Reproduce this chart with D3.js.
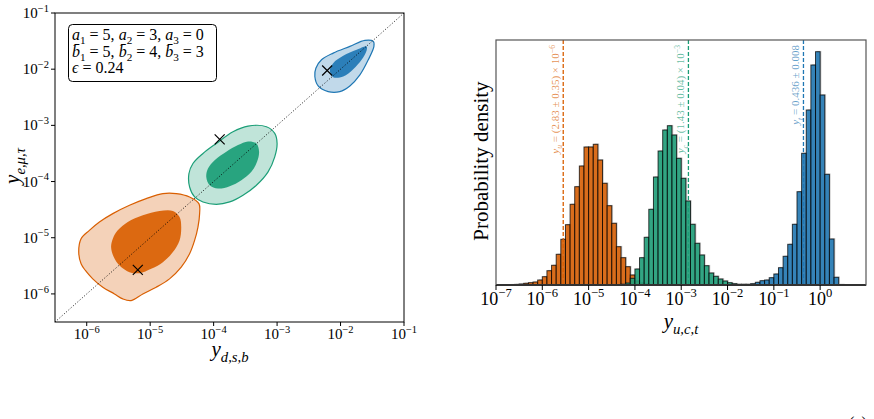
<!DOCTYPE html>
<html>
<head>
<meta charset="utf-8">
<script src="https://cdn.jsdelivr.net/npm/d3@7"></script>
<style>
  body { margin: 0; background: #fff; }
  svg { font-family: "Liberation Serif", "DejaVu Serif", serif; }
</style>
</head>
<body>
<svg id="chart" width="874" height="419"></svg>
<script>
// ---- data (log10 values) ----
var colU = "#d95f02", colC = "#1b9e77", colT = "#1f77b4";

// 95% and 68% contours, [log10 y_d, log10 y_e]
var upOuter = [[-6.126,-5.256],[-6.089,-5.018],[-5.958,-4.869],[-5.8,-4.72],[-5.589,-4.571],[-5.326,-4.423],
  [-5.063,-4.304],[-4.8,-4.214],[-4.589,-4.214],[-4.379,-4.274],[-4.232,-4.393],[-4.221,-4.571],[-4.247,-4.81],
  [-4.3,-5.048],[-4.379,-5.286],[-4.511,-5.524],[-4.695,-5.732],[-4.905,-5.881],[-5.116,-6.0],[-5.3,-6.119],
  [-5.432,-6.089],[-5.563,-6.0],[-5.747,-5.881],[-5.905,-5.732],[-6.021,-5.583],[-6.089,-5.464]];
var upInner = [[-5.616,-5.167],[-5.589,-5.018],[-5.511,-4.869],[-5.353,-4.72],[-5.116,-4.601],[-4.853,-4.524],
  [-4.642,-4.524],[-4.537,-4.631],[-4.511,-4.81],[-4.537,-5.048],[-4.642,-5.256],[-4.8,-5.435],[-4.984,-5.554],
  [-5.168,-5.631],[-5.326,-5.613],[-5.484,-5.494],[-5.574,-5.345]];
var chOuter = [[-3.695,-3.113],[-3.458,-3.012],[-3.168,-3.024],[-3.037,-3.143],[-3.0,-3.321],[-3.037,-3.56],
  [-3.142,-3.827],[-3.326,-4.065],[-3.537,-4.244],[-3.747,-4.363],[-3.958,-4.405],[-4.168,-4.363],[-4.3,-4.274],
  [-4.379,-4.095],[-4.389,-3.857],[-4.326,-3.679],[-4.168,-3.5],[-3.958,-3.321]];
var chInner = [[-4.116,-3.917],[-4.089,-3.768],[-3.984,-3.619],[-3.8,-3.47],[-3.616,-3.351],[-3.458,-3.286],
  [-3.326,-3.321],[-3.284,-3.47],[-3.316,-3.649],[-3.405,-3.827],[-3.563,-3.976],[-3.747,-4.083],[-3.932,-4.125],
  [-4.063,-4.065]];
var tpOuter = [[-1.484,-1.506],[-1.616,-1.488],[-1.853,-1.595],[-2.116,-1.714],[-2.3,-1.833],[-2.389,-1.982],
  [-2.405,-2.131],[-2.353,-2.298],[-2.195,-2.399],[-2.011,-2.399],[-1.853,-2.298],[-1.695,-2.101],[-1.563,-1.833],
  [-1.474,-1.595]];
var tpInner = [[-1.589,-1.595],[-1.747,-1.655],[-1.958,-1.762],[-2.116,-1.893],[-2.168,-2.024],[-2.116,-2.143],
  [-1.958,-2.131],[-1.8,-2.0],[-1.668,-1.833],[-1.589,-1.667]];
// true values (crosses)
var crosses = [[-5.195,-5.571],[-3.905,-3.25],[-2.211,-2.024]];

// histograms: left bin edge (log10 y) and density
var binWidth = 0.1;
var uEdges = [-6.7,-6.6,-6.5,-6.4,-6.3,-6.2,-6.1,-6.0,-5.9,-5.8,-5.7,-5.6,-5.5,-5.4,-5.3,-5.2,-5.1,-5.0,-4.9,-4.8,
  -4.7,-4.6,-4.5,-4.4,-4.3,-4.2,-4.1,-4.0,-3.9,-3.8,-3.7];
var uDens = [0.003,0.006,0.010,0.017,0.023,0.030,0.050,0.083,0.143,0.197,0.307,0.457,0.603,0.807,0.983,1.19,1.38,
  1.38,1.407,1.25,1.017,0.793,0.617,0.383,0.273,0.183,0.10,0.04,0.02,0.01,0.004];
var cEdges = [-4.3,-4.2,-4.1,-4.0,-3.9,-3.8,-3.7,-3.6,-3.5,-3.4,-3.3,-3.2,-3.1,-3.0,-2.9,-2.8,-2.7,-2.6,-2.5,-2.4,
  -2.3,-2.2,-2.1,-2.0,-1.9,-1.8,-1.7];
var cDens = [0.008,0.02,0.067,0.16,0.273,0.477,0.757,1.08,1.34,1.55,1.593,1.50,1.267,1.067,0.84,0.607,0.417,0.30,
  0.193,0.12,0.087,0.06,0.04,0.023,0.013,0.007,0.003];
var tEdges = [-1.7,-1.6,-1.5,-1.4,-1.3,-1.2,-1.1,-1.0,-0.9,-0.8,-0.7,-0.6,-0.5,-0.4,-0.3,-0.2,-0.1,0.0,0.1,0.2,0.3,0.4];
var tDens = [0.007,0.007,0.013,0.027,0.043,0.05,0.073,0.11,0.173,0.287,0.407,0.607,0.933,1.317,1.75,2.20,2.333,
  1.90,1.107,0.46,0.077,0.005];

var fitVals = [2.83e-6, 1.43e-3, 0.436];
var fitLabels = [
  [["y","i"],["u","_i"],[" = (2.83 ± 0.35) × 10",""],["−6","^"]],
  [["y","i"],["c","_i"],[" = (1.43 ± 0.04) × 10",""],["−3","^"]],
  [["y","i"],["t","_i"],[" = 0.436 ± 0.008",""]]
];
var leftTicks = [-6, -5, -4, -3, -2, -1];
var rightTicks = [-7, -6, -5, -4, -3, -2, -1, 0];

// ---- helpers ----
function mathText(sel, parts, size) {
  var shift = 0;
  parts.forEach(function(p) {
    var k = p[1], target = 0, fs = size;
    if (k.indexOf("_") >= 0) { target = size * 0.28; fs = size * 0.7; }
    if (k.indexOf("^") >= 0) { target = -size * 0.42; fs = size * 0.7; }
    var t = sel.append("tspan").text(p[0]).attr("dy", target - shift).attr("font-size", fs);
    if (k.indexOf("i") >= 0) t.attr("font-style", "italic");
    shift = target;
  });
  return sel;
}
function powLabel(sel, e, size) {
  mathText(sel, [["10", ""], [(e < 0 ? "−" : "") + Math.abs(e), "^"]], size);
}

var svg = d3.select("#chart");
svg.append("rect").attr("width", 874).attr("height", 419).attr("fill", "#fff");

// ================= left panel =================
var xL = d3.scaleLog().domain([Math.pow(10, -6.5), 1e-1]).range([55, 404]);
var yL = d3.scaleLog().domain([Math.pow(10, -6.5), 1e-1]).range([322, 13]);
var gL = svg.append("g");

var blob = d3.line()
  .x(function(d) { return xL(Math.pow(10, d[0])); })
  .y(function(d) { return yL(Math.pow(10, d[1])); })
  .curve(d3.curveCatmullRomClosed);

[[upOuter, upInner, colU], [chOuter, chInner, colC], [tpOuter, tpInner, colT]].forEach(function(s) {
  gL.append("path").attr("d", blob(s[0])).attr("fill", s[2]).attr("fill-opacity", 0.28)
    .attr("stroke", s[2]).attr("stroke-width", 1.2);
  gL.append("path").attr("d", blob(s[1])).attr("fill", s[2]).attr("fill-opacity", 0.92);
});

// y = x diagonal
gL.append("line")
  .attr("x1", xL(Math.pow(10, -6.5))).attr("y1", yL(Math.pow(10, -6.5)))
  .attr("x2", xL(1e-1)).attr("y2", yL(1e-1))
  .attr("stroke", "#000").attr("stroke-width", 0.9).attr("stroke-dasharray", "1,2");

crosses.forEach(function(c) {
  var cx = xL(Math.pow(10, c[0])), cy = yL(Math.pow(10, c[1])), r = 5;
  gL.append("path").attr("d", "M" + (cx - r) + "," + (cy - r) + "L" + (cx + r) + "," + (cy + r) +
      "M" + (cx - r) + "," + (cy + r) + "L" + (cx + r) + "," + (cy - r))
    .attr("stroke", "#000").attr("stroke-width", 1.2);
});

gL.append("rect").attr("x", 55).attr("y", 13).attr("width", 349).attr("height", 309)
  .attr("fill", "none").attr("stroke", "#000").attr("stroke-width", 1);

leftTicks.forEach(function(e) {
  var x = xL(Math.pow(10, e)), y = yL(Math.pow(10, e));
  gL.append("line").attr("x1", x).attr("x2", x).attr("y1", 322).attr("y2", 326).attr("stroke", "#000");
  gL.append("line").attr("x1", 55).attr("x2", 51).attr("y1", y).attr("y2", y).attr("stroke", "#000");
  powLabel(gL.append("text").attr("x", x).attr("y", 339).attr("text-anchor", "middle"), e, 15);
  powLabel(gL.append("text").attr("x", 49).attr("y", y + 5).attr("text-anchor", "end"), e, 15);
});

mathText(gL.append("text").attr("x", 230).attr("y", 356).attr("text-anchor", "middle"),
  [["y", "i"], ["d,s,b", "_i"]], 21);
mathText(gL.append("text").attr("transform", "translate(19,166) rotate(-90)").attr("text-anchor", "middle"),
  [["y", "i"], ["e,μ,τ", "_i"]], 21);

// parameter box
gL.append("rect").attr("x", 68.5).attr("y", 24.5).attr("width", 148).attr("height", 57).attr("rx", 4)
  .attr("fill", "#fff").attr("stroke", "#000").attr("stroke-width", 1);
var boxLines = [
  [["a", "i"], ["1", "_"], [" = 5, ", ""], ["a", "i"], ["2", "_"], [" = 3, ", ""], ["a", "i"], ["3", "_"], [" = 0", ""]],
  [["b\u0304", "i"], ["1", "_"], [" = 5, ", ""], ["b\u0304", "i"], ["2", "_"], [" = 4, ", ""], ["b\u0304", "i"], ["3", "_"], [" = 3", ""]],
  [["\u03f5", "i"], [" = 0.24", ""]]
];
boxLines.forEach(function(l, i) {
  mathText(gL.append("text").attr("x", 72).attr("y", 40 + i * 16.7), l, 16);
});

// ================= right panel =================
var xR = d3.scaleLog().domain([1e-7, Math.pow(10, 0.99)]).range([496, 866]);
var yR = d3.scaleLinear().domain([0, 2.45]).range([285, 40]);
var gR = svg.append("g");

[[uEdges, uDens, colU], [cEdges, cDens, colC], [tEdges, tDens, colT]].forEach(function(s) {
  var bars = s[0].map(function(e, i) { return { lo: e, hi: e + binWidth, v: s[1][i] }; });
  var g = gR.append("g");
  g.selectAll(".sh").data(bars).enter().append("rect")
    .attr("x", function(d) { return xR(Math.pow(10, d.lo)) + 1.3; })
    .attr("y", function(d) { return yR(d.v) - 0.8; })
    .attr("width", function(d) { return xR(Math.pow(10, d.hi)) - xR(Math.pow(10, d.lo)); })
    .attr("height", function(d) { return yR(0) - yR(d.v) + 0.8; })
    .attr("fill", "#999").attr("fill-opacity", 0.45);
  g.selectAll(".bar").data(bars).enter().append("rect")
    .attr("x", function(d) { return xR(Math.pow(10, d.lo)); })
    .attr("y", function(d) { return yR(d.v); })
    .attr("width", function(d) { return xR(Math.pow(10, d.hi)) - xR(Math.pow(10, d.lo)); })
    .attr("height", function(d) { return yR(0) - yR(d.v); })
    .attr("fill", s[2]).attr("fill-opacity", 0.88)
    .attr("stroke", "#000").attr("stroke-opacity", 0.75).attr("stroke-width", 1);
});

// baseline formed by empty bins
gR.append("line").attr("x1", 496).attr("x2", 866).attr("y1", yR(0)).attr("y2", yR(0))
  .attr("stroke", "#000").attr("stroke-width", 2.2);

var cols = [colU, colC, colT];
fitVals.forEach(function(v, i) {
  var x = xR(v);
  gR.append("line").attr("x1", x).attr("x2", x).attr("y1", 40).attr("y2", 285)
    .attr("stroke", cols[i]).attr("stroke-width", 1.3).attr("stroke-dasharray", "4,2");
  mathText(gR.append("text").attr("transform", "translate(" + (x - 4) + ",45) rotate(-90)")
      .attr("text-anchor", "end").attr("fill", cols[i]).attr("fill-opacity", 0.7),
    fitLabels[i], 11);
});

gR.append("rect").attr("x", 496).attr("y", 40).attr("width", 370).attr("height", 245)
  .attr("fill", "none").attr("stroke", "#555").attr("stroke-width", 1.2);

rightTicks.forEach(function(e) {
  var x = xR(Math.pow(10, e));
  gR.append("line").attr("x1", x).attr("x2", x).attr("y1", 285).attr("y2", 290).attr("stroke", "#000");
  powLabel(gR.append("text").attr("x", x).attr("y", 305).attr("text-anchor", "middle"), e, 18);
});

mathText(gR.append("text").attr("x", 681).attr("y", 328).attr("text-anchor", "middle"),
  [["y", "i"], ["u,c,t", "_i"]], 21);
gR.append("text").attr("transform", "translate(488,161) rotate(-90)").attr("text-anchor", "middle")
  .attr("font-size", 21).text("Probability density");

svg.append("text").attr("x", 858).attr("y", 428).attr("text-anchor", "middle").attr("font-size", 16).text("(a)");
</script>
</body>
</html>
